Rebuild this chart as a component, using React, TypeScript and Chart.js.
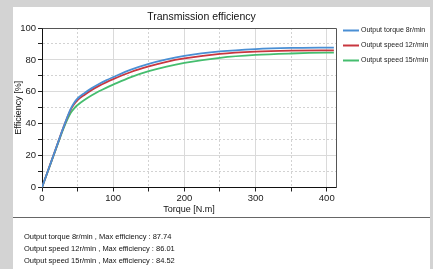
import React, { useEffect, useRef } from "react";
import { Chart, registerables } from "chart.js";

Chart.register(...registerables);

const torque = [0, 10, 20, 30, 40, 45, 50, 60, 70, 80, 90, 100, 125, 150, 175, 200, 250, 300, 350, 400, 410];
const eff8 = [0, 12.5, 25, 37.5, 49, 53, 55.8, 59.3, 62.3, 64.9, 67.2, 69.2, 73.9, 77.5, 80.3, 82.5, 85.3, 86.8, 87.5, 87.72, 87.74];
const eff12 = [0, 12.5, 25, 37.5, 48.5, 52.2, 54.8, 58.2, 61.2, 63.7, 65.9, 67.9, 72.4, 75.9, 78.8, 80.9, 83.8, 85.2, 85.8, 86, 86.01];
const eff15 = [0, 12.3, 24.6, 36.8, 46.5, 49.5, 51.7, 55, 57.8, 60.3, 62.5, 64.5, 69.2, 72.9, 75.8, 78.1, 81.3, 83.1, 84, 84.5, 84.52];

const seriesNames = ["Output torque 8r/min", "Output speed 12r/min", "Output speed 15r/min"];
const seriesColors = ["#4a8fd4", "#c8363f", "#45bd6e"];
const maxEff = ["87.74", "86.01", "84.52"];

const chartTitle = "Transmission efficiency";
const xTitle = "Torque [N.m]";
const yTitle = "Efficiency [%]";

const FONT = "'Liberation Sans', Arial, sans-serif";

export default function App() {
  const ref = useRef<HTMLCanvasElement>(null);

  useEffect(() => {
    if (!ref.current) return;
    const seriesValues = [eff8, eff12, eff15];
    const overlay = {
      id: "overlay",
      afterDraw(chart: any) {
        const { ctx, chartArea } = chart;
        ctx.save();
        ctx.strokeStyle = "#555";
        ctx.lineWidth = 1;
        ctx.beginPath();
        ctx.moveTo(Math.round(chartArea.left) + 0.5, Math.round(chartArea.top) + 0.5);
        ctx.lineTo(Math.round(chartArea.right) + 0.5, Math.round(chartArea.top) + 0.5);
        ctx.lineTo(Math.round(chartArea.right) + 0.5, Math.round(chartArea.bottom));
        ctx.stroke();
        ctx.fillStyle = "#111";
        ctx.font = `10.5px ${FONT}`;
        ctx.textAlign = "center";
        ctx.textBaseline = "middle";
        ctx.fillText(chartTitle, 188.5, 10.5);
        ctx.font = `7px ${FONT}`;
        ctx.textAlign = "left";
        const rows = [23.5, 38.5, 53.5];
        seriesNames.forEach((name, i) => {
          ctx.strokeStyle = seriesColors[i];
          ctx.lineWidth = 2;
          ctx.beginPath();
          ctx.moveTo(330, rows[i]);
          ctx.lineTo(346, rows[i]);
          ctx.stroke();
          ctx.fillStyle = "#222";
          ctx.fillText(name, 348, rows[i]);
        });
        ctx.restore();
      },
    };

    const gridColor = (c: any) =>
      c.tick && (c.scale.axis === "x" ? c.tick.value % 100 === 0 : c.tick.value % 20 === 0) ? "#dadada" : "#d2d2d2";
    const gridDash = (c: any) =>
      c.tick && (c.scale.axis === "x" ? c.tick.value % 100 !== 0 : c.tick.value % 20 !== 0) ? [2, 2] : [];

    const chart = new Chart(ref.current, {
      type: "line",
      data: {
        datasets: seriesNames.map((name, i) => ({
          label: name,
          data: torque.map((t, j) => ({ x: t, y: seriesValues[i][j] })),
          borderColor: seriesColors[i],
          backgroundColor: seriesColors[i],
          borderWidth: 1.8,
          pointRadius: 0,
          cubicInterpolationMode: "monotone" as const,
          fill: false,
        })),
      },
      plugins: [overlay],
      options: {
        animation: false,
        responsive: false,
        maintainAspectRatio: false,
        layout: { padding: { top: 21, right: 94, left: 0, bottom: 0 } },
        plugins: {
          legend: { display: false },
          title: { display: false },
          tooltip: { enabled: false },
        },
        scales: {
          x: {
            type: "linear",
            min: 0,
            max: 413,
            afterFit: (s: any) => {
              s.height = 29.5;
            },
            ticks: {
              stepSize: 50,
              includeBounds: false,
              autoSkip: false,
              maxRotation: 0,
              padding: 1,
              color: "#222",
              font: { family: FONT, size: 9.5 },
              callback: (v: any) => (Number(v) % 100 === 0 ? String(v) : ""),
            },
            grid: {
              color: gridColor,
              lineWidth: 1,
              drawTicks: true,
              tickLength: 4,
              tickColor: "#222",
            },
            border: { display: true, color: "#111", width: 1, dash: gridDash },
            title: {
              display: true,
              text: xTitle,
              color: "#111",
              font: { family: FONT, size: 9 },
              padding: { top: 0, bottom: 2 },
            },
          },
          y: {
            type: "linear",
            min: 0,
            max: 100,
            afterFit: (s: any) => {
              s.width = 29;
            },
            ticks: {
              stepSize: 10,
              autoSkip: false,
              padding: 2,
              color: "#222",
              font: { family: FONT, size: 9.5 },
              callback: (v: any) => (Number(v) % 20 === 0 ? String(v) : ""),
            },
            grid: {
              color: gridColor,
              lineWidth: 1,
              drawTicks: true,
              tickLength: 4,
              tickColor: "#222",
            },
            border: { display: true, color: "#111", width: 1, dash: gridDash },
            title: {
              display: true,
              text: yTitle,
              color: "#111",
              font: { family: FONT, size: 9 },
              padding: { top: 0, bottom: 0 },
            },
          },
        },
      },
    } as any);
    return () => chart.destroy();
  }, []);

  return (
    <div
      style={{
        position: "fixed",
        left: 0,
        top: 0,
        width: 433,
        height: 269,
        background: "#d3d3d3",
        overflow: "hidden",
      }}
    >
      <div
        style={{
          position: "absolute",
          left: 13,
          top: 7,
          width: 417,
          height: 262,
          background: "#ffffff",
        }}
      >
        <canvas ref={ref} width={417} height={210} style={{ display: "block", width: 417, height: 210 }} />
        <div style={{ position: "absolute", left: 0, top: 210, width: 417, height: 1, background: "#666" }} />
        <div
          style={{
            position: "absolute",
            left: 11,
            top: 224,
            fontFamily: FONT,
            fontSize: "7.5px",
            lineHeight: "12px",
            color: "#111",
            whiteSpace: "nowrap",
            WebkitFontSmoothing: "antialiased",
            willChange: "transform",
            transform: "translateZ(0)",
          }}
        >
          {seriesNames.map((n, i) => (
            <div key={n}>{`${n} , Max efficiency : ${maxEff[i]}`}</div>
          ))}
        </div>
      </div>
    </div>
  );
}
